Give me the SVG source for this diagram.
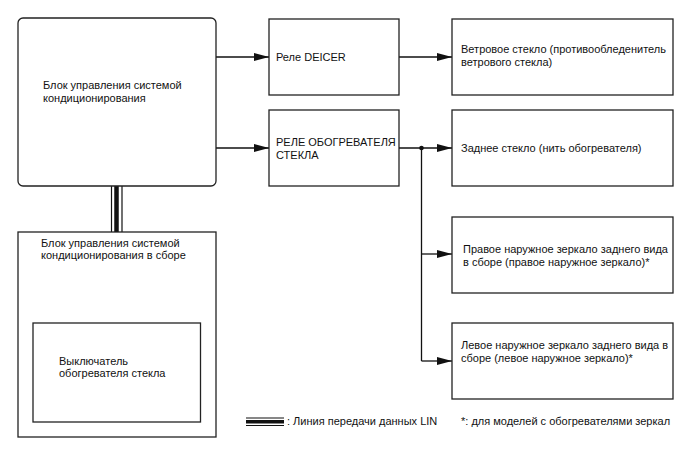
<svg xmlns="http://www.w3.org/2000/svg" width="688" height="463" viewBox="0 0 688 463">
<style>
.box{fill:#fff;stroke:#222;stroke-width:1.3}
.t{font-family:"Liberation Sans",Arial,sans-serif;font-size:11px;fill:#111}
.c{fill:none;stroke:#111;stroke-width:1.3}
</style>
<defs>
<marker id="ah" viewBox="0 0 15 8" refX="15" refY="4" markerWidth="15" markerHeight="8" markerUnits="userSpaceOnUse" orient="auto">
<path d="M0,0 L15,4 L0,8 Z" fill="#111"/>
</marker>
</defs>
<rect width="688" height="463" fill="#fff"/>
<g id="connectors">
<line class="c" x1="216" y1="57" x2="269" y2="57" marker-end="url(#ah)"/>
<line class="c" x1="216" y1="148" x2="269" y2="148" marker-end="url(#ah)"/>
<line class="c" x1="399" y1="57" x2="452" y2="57" marker-end="url(#ah)"/>
<line class="c" x1="399" y1="148" x2="452" y2="148" marker-end="url(#ah)"/>
<polyline class="c" points="421.5,148 421.5,361"/>
<line class="c" x1="421.5" y1="254" x2="452" y2="254" marker-end="url(#ah)"/>
<line class="c" x1="421.5" y1="361" x2="452" y2="361" marker-end="url(#ah)"/>
<circle cx="421.5" cy="148" r="2.3" fill="#111"/>
<g id="lin">
<line x1="111.5" y1="186" x2="111.5" y2="232" stroke="#111" stroke-width="1.2"/>
<line x1="116.5" y1="186" x2="116.5" y2="232" stroke="#111" stroke-width="4.5"/>
<line x1="122" y1="186" x2="122" y2="232" stroke="#111" stroke-width="1.2"/>
</g>
</g>
<g id="ac-ecu">
<rect class="box" x="18" y="18" width="198" height="168" rx="5"/>
<text class="t" x="43" y="89">Блок управления системой</text>
<text class="t" x="43" y="102">кондиционирования</text>
</g>
<g id="ac-assy">
<rect class="box" x="18" y="232" width="198" height="205"/>
<text class="t" x="41" y="247">Блок управления системой</text>
<text class="t" x="41" y="259">кондиционирования в сборе</text>
</g>
<g id="switch">
<rect class="box" x="33" y="323" width="167.5" height="99"/>
<text class="t" x="59" y="365">Выключатель</text>
<text class="t" x="59" y="377">обогревателя стекла</text>
</g>
<g id="deicer-relay">
<rect class="box" x="269" y="19" width="130" height="76"/>
<text class="t" x="276" y="61">Реле DEICER</text>
</g>
<g id="heater-relay">
<rect class="box" x="269" y="110" width="130" height="76"/>
<text class="t" x="276" y="146">РЕЛЕ ОБОГРЕВАТЕЛЯ</text>
<text class="t" x="276" y="159">СТЕКЛА</text>
</g>
<g id="windshield">
<rect class="box" x="452" y="19" width="221" height="76"/>
<text class="t" x="461" y="53">Ветровое стекло (противообледенитель</text>
<text class="t" x="461" y="66">ветрового стекла)</text>
</g>
<g id="rear-glass">
<rect class="box" x="452" y="110" width="221" height="76"/>
<text class="t" x="461" y="152">Заднее стекло (нить обогревателя)</text>
</g>
<g id="right-mirror">
<rect class="box" x="452" y="217" width="221" height="76"/>
<text class="t" x="463" y="253">Правое наружное зеркало заднего вида</text>
<text class="t" x="463" y="266">в сборе (правое наружное зеркало)*</text>
</g>
<g id="left-mirror">
<rect class="box" x="452" y="323" width="221" height="76"/>
<text class="t" x="461" y="349">Левое наружное зеркало заднего вида в</text>
<text class="t" x="461" y="362">сборе (левое наружное зеркало)*</text>
</g>
<g id="legend">
<line x1="246" y1="418" x2="284" y2="418" stroke="#111" stroke-width="1.2"/>
<line x1="246" y1="421.8" x2="284" y2="421.8" stroke="#111" stroke-width="3.5"/>
<line x1="246" y1="425.5" x2="284" y2="425.5" stroke="#111" stroke-width="1.2"/>
<text class="t" x="287" y="425">: Линия передачи данных LIN</text>
<text class="t" x="461" y="425">*: для моделей с обогревателями зеркал</text>
</g>
</svg>
